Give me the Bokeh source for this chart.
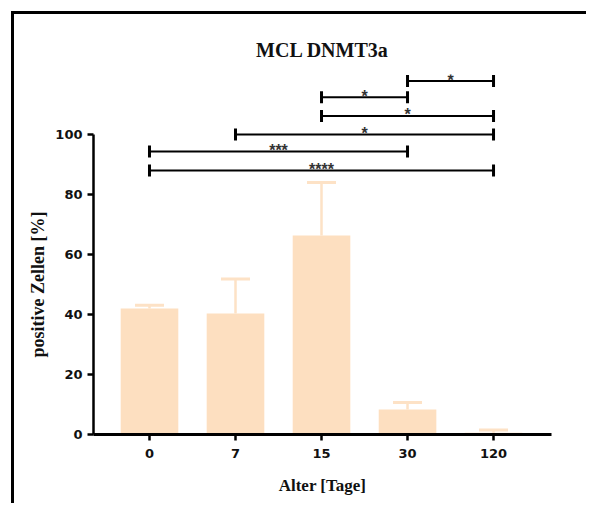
import math
from bokeh.plotting import figure
from bokeh.models import (Range1d, FixedTicker, Title, Whisker, TeeHead,
                          ColumnDataSource)
from bokeh.core.properties import value
from bokeh.embed import file_html
from bokeh.resources import INLINE

# ---- data ----
categories = ["0", "7", "15", "30", "120"]
means = [42.0, 40.3, 66.3, 8.3, 0.6]
upper = [43.1, 51.8, 84.0, 10.7, 1.5]

bracket_from = [3, 2, 2, 1, 0, 0]
bracket_to = [4, 3, 4, 4, 3, 4]
bracket_y = [117.8, 112.4, 106.2, 100.0, 94.3, 88.0]
bracket_label = ["*", "*", "*", "*", "***", "****"]

y_ticks = [0, 20, 40, 60, 80, 100]

BAR = "#FDDFC0"
ERR = "#FDE2C6"

idx = list(range(len(categories)))

p = figure(width=575, height=492, output_backend="svg", toolbar_location=None,
           x_range=Range1d(-0.651, 4.674), y_range=Range1d(0, 120),
           min_border_left=79, min_border_right=38, min_border_top=60,
           min_border_bottom=72)
p.margin = (11, 0, 0, 11)
p.styles = {"border-left": "3px solid black", "border-top": "3px solid black"}

p.outline_line_color = None
p.xgrid.grid_line_color = None
p.ygrid.grid_line_color = None
p.background_fill_color = "white"
p.border_fill_color = "white"

# title
p.title.text = "MCL DNMT3a"
p.title.align = "center"
p.title.text_font = "Liberation Serif"
p.title.text_font_style = "bold"
p.title.text_font_size = "20px"
p.title.text_color = "#111111"
p.title.standoff = 28

# bars
src = ColumnDataSource(dict(x=idx, top=means, upper=upper))
p.vbar(x="x", top="top", width=0.67, source=src, fill_color=BAR,
       line_color=None)

w = Whisker(base="x", lower="top", upper="upper", source=src,
            line_color=ERR, line_width=2.5, lower_head=None,
            upper_head=TeeHead(size=29, line_color=ERR, line_width=3))
p.add_layout(w)

# significance brackets
bx0 = [float(a) for a in bracket_from]
bx1 = [float(b) for b in bracket_to]
p.segment(x0=bx0, x1=bx1, y0=bracket_y, y1=bracket_y, line_color="black",
          line_width=2)
tick_h = 2.0
p.segment(x0=bx0 + bx1, x1=bx0 + bx1,
          y0=[y - tick_h for y in bracket_y] * 2,
          y1=[y + tick_h for y in bracket_y] * 2,
          line_color="black", line_width=3)
p.text(x=[(a + b) / 2 for a, b in zip(bx0, bx1)], y=bracket_y,
       text=bracket_label, text_align="center", text_baseline="alphabetic",
       y_offset=-1, text_font=value("Liberation Sans"),
       text_font_style="bold", text_font_size="16px", text_color="#333333")

# axes
xa = p.xaxis[0]
xa.ticker = FixedTicker(ticks=idx)
xa.major_label_overrides = {i: c for i, c in zip(idx, categories)}
xa.minor_tick_line_color = None
xa.major_tick_out = 6
xa.major_tick_in = 0
xa.axis_line_width = 3
xa.major_tick_line_width = 2.5
xa.major_label_text_font = "DejaVu Sans"
xa.major_label_text_font_style = "bold"
xa.major_label_text_font_size = "13px"
xa.major_label_text_color = "#111111"
xa.major_label_standoff = 8
xa.axis_label = "Alter [Tage]"
xa.axis_label_text_font = "Liberation Serif"
xa.axis_label_text_font_style = "bold"
xa.axis_label_text_font_size = "17px"
xa.axis_label_text_color = "#111111"
xa.axis_label_standoff = 15

ya = p.yaxis[0]
ya.ticker = FixedTicker(ticks=y_ticks)
ya.bounds = (0, 100)
ya.minor_tick_line_color = None
ya.major_tick_out = 6
ya.major_tick_in = 0
ya.axis_line_width = 2.5
ya.major_tick_line_width = 2.5
ya.major_label_text_font = "DejaVu Sans"
ya.major_label_text_font_style = "bold"
ya.major_label_text_font_size = "13px"
ya.major_label_text_color = "#111111"
ya.major_label_standoff = 5

ytitle = Title(text="positive Zellen [%]", align="left", offset=77,
               text_font="Liberation Serif", text_font_style="bold",
               text_font_size="18px", text_color="#111111", standoff=10)
p.add_layout(ytitle, "left")

open("out.html", "w").write(file_html(p, INLINE))
